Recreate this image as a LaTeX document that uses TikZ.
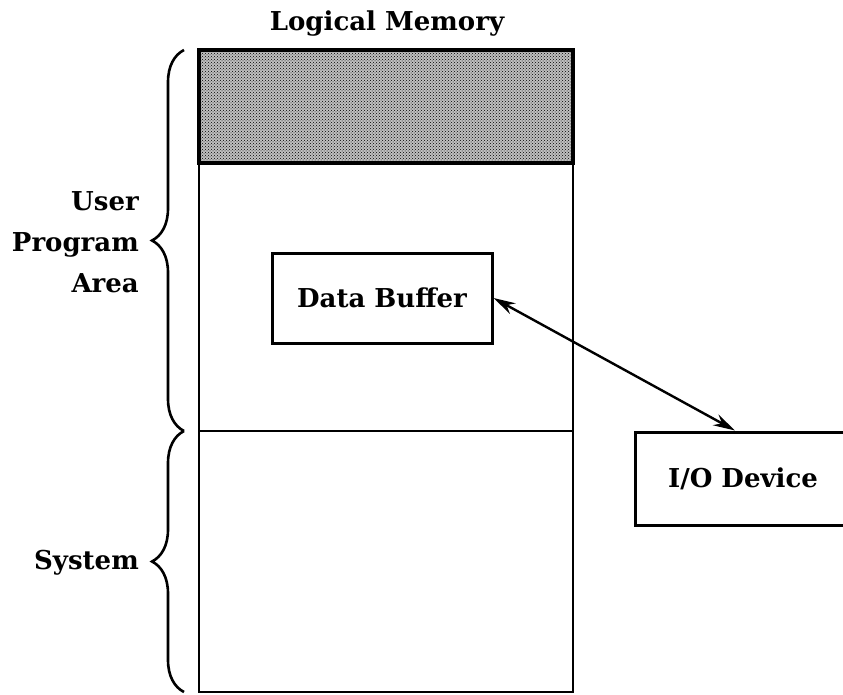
\documentclass[tikz,border=0pt]{standalone}
\usepackage{fontspec}
\setmainfont{DejaVu Serif}
\usetikzlibrary{decorations.pathreplacing,patterns,arrows.meta}
\begin{document}
\begin{tikzpicture}[x=1pt,y=-1pt,
  lbl/.style={font=\bfseries\fontsize{26}{41}\selectfont, inner sep=0pt},
  boxed/.style={draw, line width=3pt, inner sep=0pt},
  brc/.style={decorate, decoration={brace, amplitude=32pt}, line width=2.6pt},
  memline/.style={line width=2.8pt},
  tip/.style={Stealth[length=22pt,width=12pt]}]
\useasboundingbox (0,0) rectangle (843,694);
\clip (0,0) rectangle (843,694);
% logical memory
\fill[black!25] (199,50) rectangle (573,163);
\fill[pattern=crosshatch dots, pattern color=black] (199,50) rectangle (573,163);
\draw[line width=3.6pt] (199,50) rectangle (573,163);
\draw[memline] (199,163) rectangle (573,692);
\draw[memline] (199,431) -- (573,431);
\node[lbl] (title) at (387,24) {Logical Memory};
% braces
\coordinate (ua) at (184,431);
\coordinate (ub) at (184,50);
\coordinate (sa) at (184,692);
\coordinate (sb) at (184,431);
\draw[brc] (ua) -- (ub);
\draw[brc] (sa) -- (sb);
\node[lbl, align=right, anchor=east] (upa) at (139,242) {User\\Program\\Area};
\node[lbl, anchor=east] (sys) at (139,563) {System};
% boxes
\node[boxed, lbl, minimum width=220pt, minimum height=90pt] (db) at (382,298) {Data Buffer};
\node[boxed, lbl, minimum width=216pt, minimum height=93pt] (io) at (743,478.5) {I/O Device};
\draw[line width=2.4pt, {Stealth[length=22pt,width=12pt]}-{Stealth[length=22pt,width=12pt]}]
  (db.east) -- ([xshift=-8pt]io.north);
\end{tikzpicture}
\end{document}
